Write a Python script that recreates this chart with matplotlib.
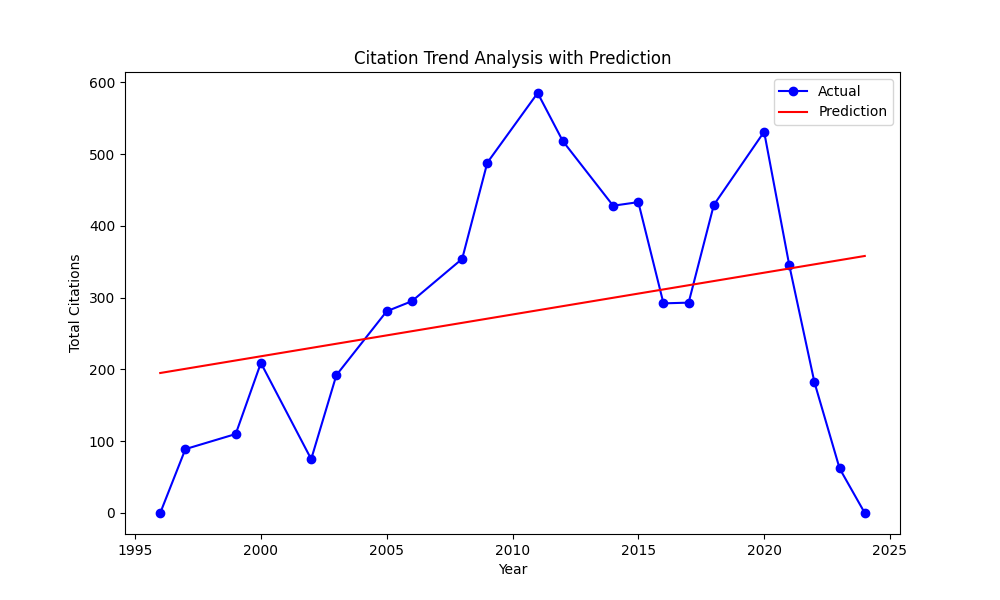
import matplotlib
matplotlib.use("Agg")
import matplotlib.pyplot as plt

years = [1996, 1997, 1999, 2000, 2002, 2003, 2005, 2006, 2008, 2009, 2011,
         2012, 2014, 2015, 2016, 2017, 2018, 2020, 2021, 2022, 2023, 2024]
citations = [0, 89, 110, 209, 75, 192, 281, 295, 354, 488, 585,
             518, 428, 433, 292, 293, 429, 531, 345, 182, 62, 0]

pred_years = [1996, 2024]
pred_values = [195, 358]

fig, ax = plt.subplots(figsize=(10, 6), dpi=100)
ax.plot(years, citations, marker='o', color='blue', label='Actual')
ax.plot(pred_years, pred_values, color='red', label='Prediction')
ax.set_xlabel("Year")
ax.set_ylabel("Total Citations")
ax.set_title("Citation Trend Analysis with Prediction")
ax.legend()
fig.savefig("out.png")
